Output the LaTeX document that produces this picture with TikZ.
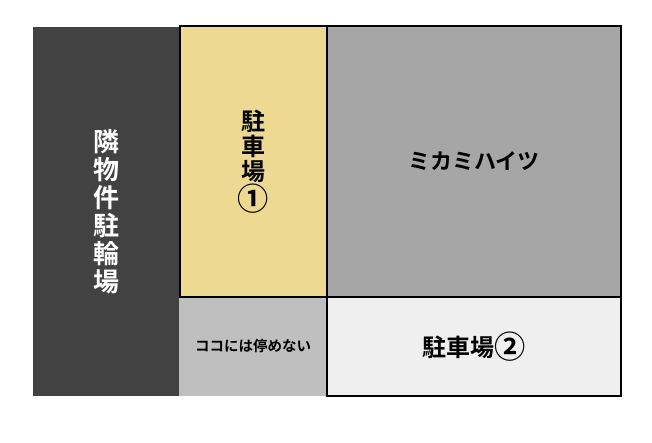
\documentclass[tikz,border=0pt]{standalone}
\usepackage{fontspec}
\newfontfamily\jp{Noto Sans CJK JP}[BoldFont={Noto Sans CJK JP Bold}]
\definecolor{darkblk}{HTML}{424242}
\definecolor{yel}{HTML}{EED992}
\definecolor{midgray}{HTML}{A6A6A6}
\definecolor{lightgray}{HTML}{EFEFEF}
\definecolor{lgray}{HTML}{BFBFBF}
\newcommand{\mycircnum}[1]{\raisebox{-0.08em}{\scalebox{1.3}{#1}}}
\tikzset{
  cell/.style={anchor=north west, inner sep=0pt, outer sep=0pt, align=center},
  bordered/.style={cell, draw=black, line width=1.5pt},
}
\begin{document}
\begin{tikzpicture}[x=1pt,y=-1pt]
\useasboundingbox (0,0) rectangle (652,442);
\fill[white] (0,0) rectangle (652,442);
\node[cell, fill=darkblk, minimum width=146pt, minimum height=369pt,
  text=white, font=\jp\bfseries\fontsize{26}{28}\selectfont] (bike) at (33,27)
  {隣\\物\\件\\駐\\輪\\場};
\node[cell, fill=lgray, minimum width=148pt, minimum height=99pt,
  font=\jp\bfseries\fontsize{14.5}{16}\selectfont] (nopark) at (179,297)
  {ココには停めない};
\draw[black!40, dashed, line width=0.6pt] (nopark.north west) -- (nopark.north east);
\node[bordered, fill=yel, minimum width=147pt, minimum height=271pt,
  font=\jp\bfseries\fontsize{24}{25}\selectfont] (p1) at (180,26)
  {駐\\車\\場\\\mycircnum{①}};
\node[bordered, fill=midgray, minimum width=294pt, minimum height=271pt,
  font=\jp\bfseries\fontsize{22}{24}\selectfont] (mikami) at (327,26)
  {ミカミハイツ};
\node[bordered, fill=lightgray, minimum width=294pt, minimum height=99pt,
  font=\jp\bfseries\fontsize{24}{26}\selectfont] (p2) at (327,297)
  {駐車場\mycircnum{②}};
\end{tikzpicture}
\end{document}
